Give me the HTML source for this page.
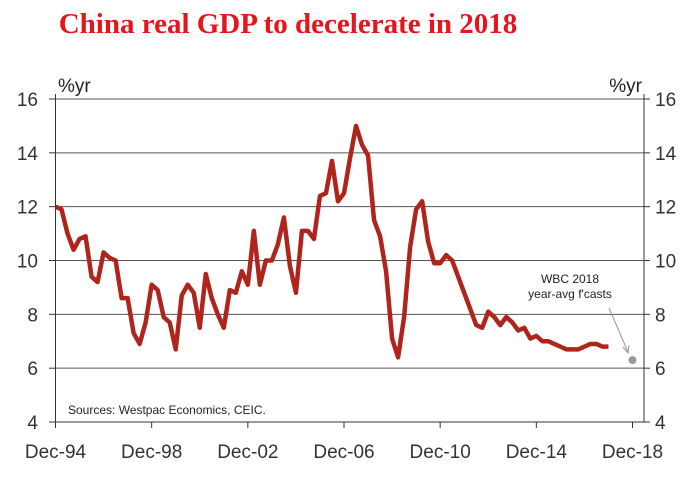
<!DOCTYPE html>
<html><head><meta charset="utf-8"><style>
body{margin:0;background:#fff;}
svg text{font-family:"Liberation Sans",Arial,sans-serif;}
</style></head><body>
<svg width="697" height="481" viewBox="0 0 697 481">
<text x="288" y="33" text-anchor="middle" fill="#e8141c" style="font-family:'Liberation Serif',serif;font-weight:bold;font-size:29px">China real GDP to decelerate in 2018</text>
<g id="grid"></g>
<g id="axes"></g>
<text x="58" y="92" font-size="19" fill="#222">%yr</text>
<text x="642" y="92" font-size="19" fill="#222" text-anchor="end">%yr</text>
<text x="68" y="414" font-size="12" fill="#222">Sources: Westpac Economics, CEIC.</text>
<text x="570" y="283" font-size="12" fill="#222" text-anchor="middle"><tspan x="570">WBC 2018</tspan><tspan x="570" dy="15">year-avg f'casts</tspan></text>
<line x1="609" y1="308" x2="628" y2="352" stroke="#999" stroke-width="1"/>
<path d="M623,347 L628,353 L629,345" fill="none" stroke="#999" stroke-width="1"/>
<g id="series"></g>
</svg>
<script>
const yTicks=[4,6,8,10,12,14,16];
const xTickLabels=["Dec-94","Dec-98","Dec-02","Dec-06","Dec-10","Dec-14","Dec-18"];
const gdp=[12.0,11.9,11.0,10.4,10.8,10.9,9.4,9.2,10.3,10.1,10.0,8.6,8.6,7.3,6.9,7.7,9.1,8.9,7.9,7.7,6.7,8.7,9.1,8.8,7.5,9.5,8.6,8.0,7.5,8.9,8.8,9.6,9.1,11.1,9.1,10.0,10.0,10.6,11.6,9.8,8.8,11.1,11.1,10.8,12.4,12.5,13.7,12.2,12.5,13.8,15.0,14.3,13.9,11.5,10.9,9.6,7.1,6.4,7.9,10.5,11.9,12.2,10.7,9.9,9.9,10.2,10.0,9.4,8.8,8.2,7.6,7.5,8.1,7.9,7.6,7.9,7.7,7.4,7.5,7.1,7.2,7.0,7.0,6.9,6.8,6.7,6.7,6.7,6.8,6.9,6.9,6.8,6.8];
const forecast2018=[6.3];
const forecastQuarter=[96];
const NS="http://www.w3.org/2000/svg";
const X0=55.5,X1=632.5,Y0=422,Y1=99;
const xq=q=>X0+(X1-X0)*q/96;
const yv=v=>Y0-(v-4)/12*(Y0-Y1);
function mk(t,a,p){const e=document.createElementNS(NS,t);for(const k in a)e.setAttribute(k,a[k]);p.appendChild(e);return e;}
const grid=document.getElementById('grid'),axes=document.getElementById('axes'),ser=document.getElementById('series');
yTicks.forEach(v=>{
  if(v>4){const l=mk('line',{x1:X0,x2:644,y1:yv(v),y2:yv(v),stroke:'#555','stroke-width':1},grid);
  
  }
  const t=mk('text',{x:38,y:yv(v)+7,'font-size':19,fill:'#333','text-anchor':'end'},axes);t.textContent=v;
  
  
  const t2=mk('text',{x:655,y:yv(v)+7,'font-size':19,fill:'#333'},axes);t2.textContent=v;
  
  
  mk('line',{x1:49,x2:X0,y1:yv(v),y2:yv(v),stroke:'#333'},axes);
  mk('line',{x1:644,x2:650,y1:yv(v),y2:yv(v),stroke:'#333'},axes);
});
const la=mk('line',{x1:X0,x2:X0,y1:Y1-5,y2:Y0,stroke:'#333'},axes);


const ra=mk('line',{x1:644,x2:644,y1:Y1-5,y2:Y0,stroke:'#333'},axes);


const xa=mk('line',{x1:49,x2:650,y1:Y0,y2:Y0,stroke:'#333'},axes);


xTickLabels.forEach((s,i)=>{
  const x=xq(i*16);
  mk('line',{x1:x,x2:x,y1:Y0,y2:Y0+6,stroke:'#333'},axes);
  const t=mk('text',{x:x,y:458,'font-size':19,fill:'#333','text-anchor':'middle'},axes);t.textContent=s;
  
  
});
const p=mk('polyline',{points:gdp.map((v,i)=>xq(i)+','+yv(v)).join(' '),fill:'none',stroke:'#b0251b','stroke-width':4.5,'stroke-linejoin':'round'},ser);


forecast2018.forEach((v,i)=>{
  const c=mk('circle',{cx:xq(forecastQuarter[i]),cy:yv(v),r:4,fill:'#999'},ser);
  
  
});
</script>
</body></html>
